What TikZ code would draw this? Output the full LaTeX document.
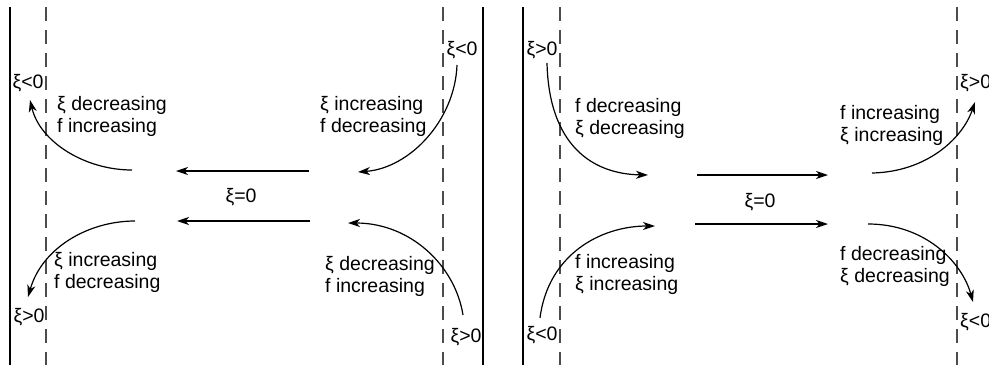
\documentclass[tikz,border=0pt]{standalone}
\usepackage{fontspec}
\setmainfont{Liberation Sans}
\usetikzlibrary{arrows.meta}
\tikzset{
  wall/.style={line width=2.2pt},
  sepline/.style={line width=2pt, draw=black!70, dash pattern=on 14pt off 9pt},
  flow/.style={->, line width=1.2pt},
  lbl/.style={inner sep=0pt, font=\fontsize{19.5}{22}\selectfont},
  note/.style={lbl, align=left, anchor=west}
}
\begin{document}
\begin{tikzpicture}[x=1pt,y=-1pt,>={Stealth[length=12pt,width=8pt,inset=3.5pt]}]
\useasboundingbox (0,0) rectangle (989,365);
\draw[wall] (10,7) -- (10,365);
\draw[wall] (483,7) -- (483,365);
\draw[wall] (523,7) -- (523,365);
\draw[sepline] (46,7) -- (46,365);
\draw[sepline] (443,7) -- (443,365);
\draw[sepline] (560,7) -- (560,365);
\draw[sepline] (957,7) -- (957,365);
% left panel
\coordinate (la1) at (309,171);
\coordinate (la2) at (176,171);
\coordinate (lb1) at (310,221);
\coordinate (lb2) at (177,221);
\coordinate (lc1) at (132,170);
\coordinate (lc2) at (30,100);
\coordinate (ld1) at (135,221);
\coordinate (ld2) at (28,297);
\coordinate (le1) at (457,65);
\coordinate (le2) at (358,172);
\coordinate (lf1) at (463,315);
\coordinate (lf2) at (348,223);
\node[lbl] (lzero) at (241,197) {ξ=0};
\node[lbl] (lneg1) at (28,83) {ξ<0};
\node[lbl] (lpos1) at (29,317) {ξ>0};
\node[lbl] (lneg2) at (462,50) {ξ<0};
\node[lbl] (lpos2) at (466,337) {ξ>0};
\node[note] (ltxt1) at (57,116) {ξ decreasing\\f increasing};
\node[note] (ltxt2) at (54,272) {ξ increasing\\f decreasing};
\node[note] (ltxt3) at (320,116) {ξ increasing\\f decreasing};
\node[note] (ltxt4) at (325,276) {ξ decreasing\\f increasing};
\draw[flow] (la1) -- (la2);
\draw[flow, line width=1.8pt] (lb1) -- (lb2);
\draw[flow] (lc1) .. controls (85,170) and (40,142) .. (lc2);
\draw[flow] (ld1) .. controls (88,221) and (42,248) .. (ld2);
\draw[flow] (le1) .. controls (455,120) and (410,168) .. (le2);
\draw[flow] (lf1) .. controls (455,265) and (410,223) .. (lf2);
% right panel
\coordinate (ra1) at (697,175);
\coordinate (ra2) at (828,175);
\coordinate (rb1) at (695,224);
\coordinate (rb2) at (828,224);
\coordinate (rc1) at (547,63);
\coordinate (rc2) at (648,175);
\coordinate (rd1) at (540,318);
\coordinate (rd2) at (655,226);
\coordinate (re1) at (872,173);
\coordinate (re2) at (975,102);
\coordinate (rf1) at (868,224);
\coordinate (rf2) at (973,302);
\node[lbl] (rzero) at (760,202) {ξ=0};
\node[lbl] (rpos1) at (542,50) {ξ>0};
\node[lbl] (rneg1) at (542,335) {ξ<0};
\node[lbl, anchor=west] (rpos2) at (960,83) {ξ>0};
\node[lbl, anchor=west] (rneg2) at (960,322) {ξ<0};
\node[note] (rtxt1) at (575,118) {f decreasing\\ξ decreasing};
\node[note] (rtxt2) at (575,274) {f increasing\\ξ increasing};
\node[note] (rtxt3) at (840,125) {f increasing\\ξ increasing};
\node[note] (rtxt4) at (840,266) {f decreasing\\ξ decreasing};
\draw[flow] (ra1) -- (ra2);
\draw[flow] (rb1) -- (rb2);
\draw[flow] (rc1) .. controls (549,145) and (592,174) .. (rc2);
\draw[flow] (rd1) .. controls (548,255) and (600,226) .. (rd2);
\draw[flow] (re1) .. controls (925,172) and (962,140) .. (re2);
\draw[flow] (rf1) .. controls (925,224) and (962,262) .. (rf2);
\end{tikzpicture}
\end{document}
